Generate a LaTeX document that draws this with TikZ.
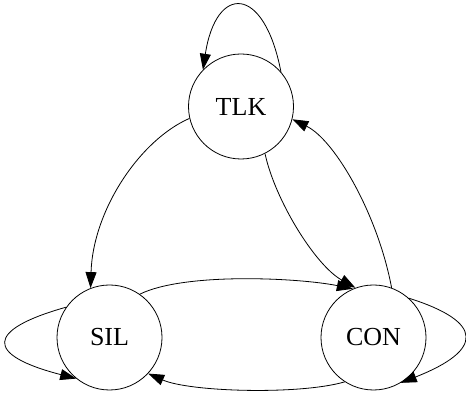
\documentclass[tikz,border=0pt]{standalone}
\usepackage{fontspec}
\setmainfont{Liberation Serif}
\usetikzlibrary{arrows.meta}
\begin{document}
\begin{tikzpicture}[x=1pt, y=1pt, every node/.style={font=\fontsize{26}{30}\selectfont}]
\tikzset{st/.style={draw,circle,minimum size=105pt,inner sep=0pt,line width=0.8pt},
         tr/.style={line width=0.8pt,-{Triangle[length=16pt,width=11pt]}}}
\useasboundingbox (0,0) rectangle (466,393);
\node[st] (tlk) at (241,286.5) {TLK};
\node[st] (sil) at (109.5,55.5) {SIL};
\node[st] (con) at (373.5,55.5) {CON};
% loops
\draw[tr] (tlk.41) .. controls (264,409) and (216,409) .. (tlk.136);
\draw[tr] (sil.145) .. controls (-15,63) and (-15,38) .. (sil.231);
\draw[tr] (con.48) .. controls (484,71) and (484,43) .. (con.-59);
% transitions
\draw[tr] (tlk.193) .. controls (140,253) and (93,183) .. (sil.111);
\draw[tr] (tlk.-63) .. controls (275,193) and (315,128) .. (con.110);
\draw[tr] (con.70) .. controls (378,178) and (335,253) .. (tlk.-14);
\draw[tr] (sil.55) .. controls (185,121) and (300,115) .. (con.113);
\draw[tr] (con.-123) .. controls (300,-2) and (190,1) .. (sil.-43);
\end{tikzpicture}
\end{document}
